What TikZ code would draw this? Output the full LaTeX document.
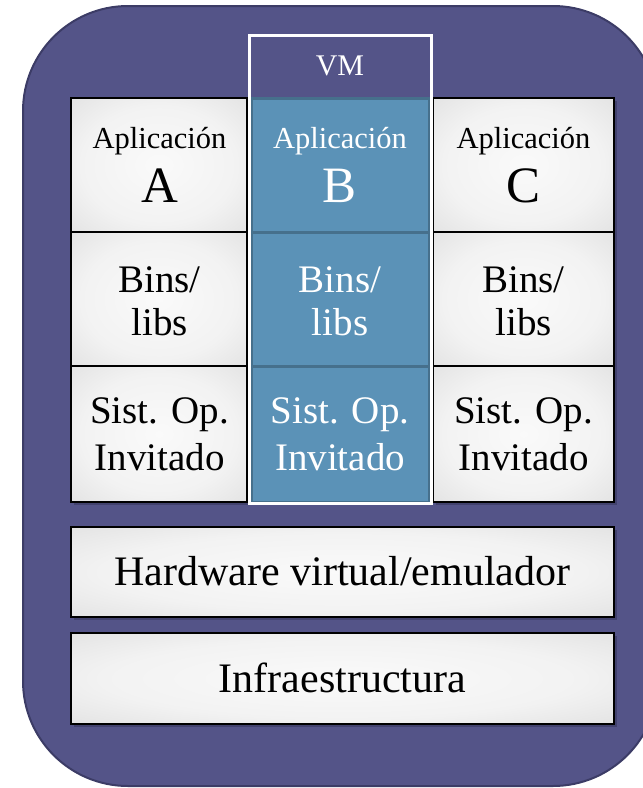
\documentclass[tikz,border=0pt]{standalone}
\usepackage{fontspec}
\setmainfont{Liberation Serif}
\usetikzlibrary{shadows}
\definecolor{bgpurple}{RGB}{84,84,136}
\definecolor{bgedge}{RGB}{60,60,102}
\definecolor{shadowc}{RGB}{66,66,110}
\definecolor{vmblue}{RGB}{91,146,183}
\definecolor{vmline}{RGB}{70,112,140}
\pgfdeclareradialshading{boxshade}{\pgfpoint{0bp}{0bp}}{rgb(0bp)=(0.98,0.98,0.98); rgb(22bp)=(0.95,0.95,0.95); rgb(50bp)=(0.83,0.83,0.83); rgb(72bp)=(0.77,0.77,0.77)}
\tikzset{
  graybox/.style={draw=black, line width=1.5pt, shading=boxshade, inner sep=0pt, outer sep=0pt,
    drop shadow={shadow xshift=3pt, shadow yshift=-3pt, fill=shadowc, opacity=1}},
  bluebox/.style={draw=vmline, line width=3pt, fill=vmblue, inner sep=0pt, outer sep=0pt},
  vmframe/.style={draw=white, line width=3pt, inner sep=0pt, outer sep=0pt},
  txt/.style={anchor=base, inner sep=0pt, outer sep=0pt},
  tsmall/.style={txt, font=\fontsize{30.5}{34}\selectfont},
  tbig/.style={txt, font=\fontsize{51}{58}\selectfont},
  tmid/.style={txt, font=\fontsize{39}{45}\selectfont},
  tlarge/.style={txt, font=\fontsize{42}{48}\selectfont},
  tvm/.style={txt, font=\fontsize{30}{34}\selectfont, text=white},
}
\begin{document}
\begin{tikzpicture}[x=1pt,y=-1pt]
\clip (0,0) rectangle (643,788);
\useasboundingbox (0,0) rectangle (643,788);
% host background
\draw[fill=bgpurple, draw=bgedge, line width=2pt, rounded corners=105pt] (23,6) rectangle (658,786);
% column A
\node[graybox, minimum width=176pt, minimum height=134pt] (a1) at (159,165) {};
\node[graybox, minimum width=176pt, minimum height=134pt] (a2) at (159,299) {};
\node[graybox, minimum width=176pt, minimum height=136pt] (a3) at (159,434) {};
% column C
\node[graybox, minimum width=181pt, minimum height=134pt] (c1) at (523.5,165) {};
\node[graybox, minimum width=181pt, minimum height=134pt] (c2) at (523.5,299) {};
\node[graybox, minimum width=181pt, minimum height=136pt] (c3) at (523.5,434) {};
% bottom layers
\node[graybox, minimum width=543pt, minimum height=90pt] (hw) at (342.5,572) {};
\node[graybox, minimum width=543pt, minimum height=91pt] (infra) at (342.5,678.5) {};
% VM column
\node[bluebox, minimum width=178pt, minimum height=134pt] (b1) at (340,165) {};
\node[bluebox, minimum width=178pt, minimum height=134pt] (b2) at (340,299) {};
\node[bluebox, minimum width=178pt, minimum height=136pt] (b3) at (340,434) {};
\node[vmframe, minimum width=182pt, minimum height=468pt] (vm) at (340,269) {};
% texts
\node[tvm] (tvm) at (340,75) {VM};
\node[tsmall] (ta1) at (159.5,148) {Aplicación};
\node[tbig] (ta2) at (159.5,202) {A};
\node[tsmall, text=white] (tb1) at (340,148) {Aplicación};
\node[tbig, text=white] (tb2) at (340,202) {B};
\node[tsmall] (tc1) at (523.5,148) {Aplicación};
\node[tbig] (tc2) at (523.5,202) {C};
\node[tmid] (la1) at (159.5,292) {Bins/};
\node[tmid] (la2) at (159.5,335) {libs};
\node[tmid, text=white] (lb1) at (340,292) {Bins/};
\node[tmid, text=white] (lb2) at (340,335) {libs};
\node[tmid] (lc1) at (523.5,292) {Bins/};
\node[tmid] (lc2) at (523.5,335) {libs};
\node[tmid] (sa1) at (159.5,423) {Sist. Op.};
\node[tmid] (sa2) at (159.5,470) {Invitado};
\node[tmid, text=white] (sb1) at (340,423) {Sist. Op.};
\node[tmid, text=white] (sb2) at (340,470) {Invitado};
\node[tmid] (sc1) at (523.5,423) {Sist. Op.};
\node[tmid] (sc2) at (523.5,470) {Invitado};
\node[tlarge] (thw) at (342.5,585) {Hardware virtual/emulador};
\node[tlarge] (tinfra) at (342.5,692) {Infraestructura};
\end{tikzpicture}
\end{document}
